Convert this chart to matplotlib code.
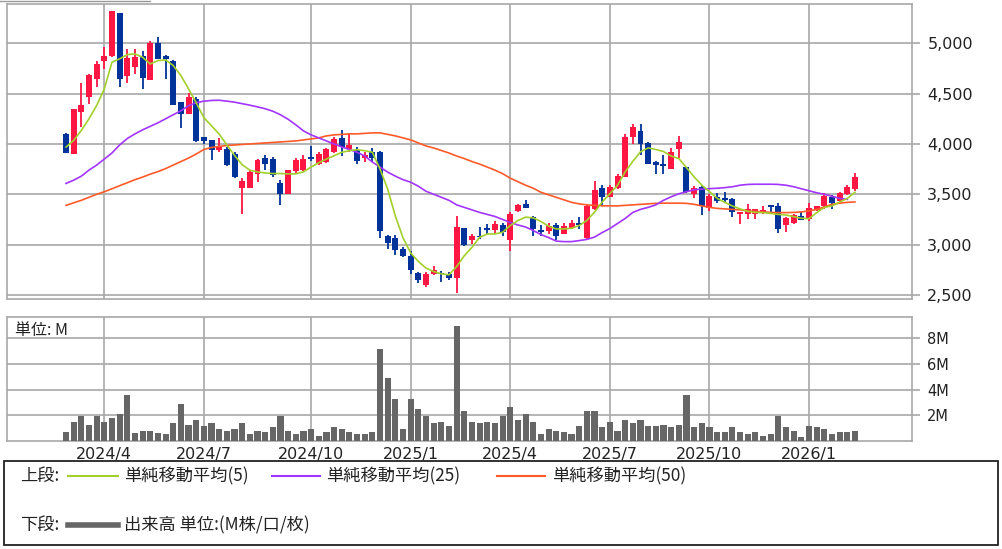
import matplotlib
matplotlib.use("Agg")
import matplotlib.pyplot as plt
from matplotlib.lines import Line2D
from matplotlib.patches import Rectangle
import numpy as np

W, H = 1003, 549

# weekly candles, first week = 2024-02-26
opens = [4101, 3903, 4316, 4465, 4646, 4822, 4871, 5300, 4679, 4762,
         4878, 4636, 5000, 4878, 4822, 4415, 4299, 4450, 4065, 4042,
         3935, 3951, 3902, 3559, 3565, 3706, 3863, 3846, 3614, 3500,
         3732, 3739, 3869, 3804, 3823, 3917, 4057, 3950, 3943, 3857,
         3917, 3917, 3083, 3067, 2957, 2890, 2723, 2600, 2710, 2723,
         2710, 2667, 3168, 3050, 3083, 3163, 3150, 3196, 3050, 3333,
         3406, 3273, 3150, 3133, 3196, 3106, 3163, 3216, 3063, 3349,
         3562, 3472, 3562, 3672, 4068, 4130, 4008, 3821, 3804, 3755,
         3951, 3771, 3500, 3572, 3363, 3474, 3460, 3457, 3308, 3301,
         3301, 3325, 3384, 3384, 3192, 3212, 3285, 3252, 3344, 3384,
         3477, 3434, 3500, 3556]
highs = [4110, 4350, 4607, 4690, 4822, 4967, 5317, 5300, 4944, 4944,
         4927, 5026, 5060, 4880, 4830, 4415, 4504, 4465, 4070, 4042,
         4056, 3967, 3918, 3657, 3738, 3853, 3892, 3869, 3640, 3745,
         3860, 3892, 3977, 3920, 3960, 4067, 4140, 4110, 3967, 3917,
         3957, 3933, 3100, 3100, 2973, 2933, 2733, 2733, 2783, 2743,
         2733, 3283, 3170, 3106, 3173, 3206, 3230, 3216, 3323, 3406,
         3439, 3289, 3196, 3216, 3216, 3216, 3240, 3273, 3390, 3629,
         3589, 3596, 3705, 4095, 4200, 4200, 4018, 3830, 3886, 3957,
         4082, 3771, 3585, 3585, 3500, 3517, 3526, 3467, 3318, 3400,
         3358, 3384, 3384, 3417, 3278, 3301, 3325, 3417, 3384, 3517,
         3490, 3523, 3589, 3708]
lows = [3913, 3897, 4167, 4398, 4564, 4746, 4860, 4564, 4607, 4696,
        4547, 4636, 4845, 4646, 4382, 4161, 4299, 4021, 4000, 3837,
        3918, 3778, 3657, 3304, 3560, 3624, 3739, 3673, 3395, 3500,
        3715, 3730, 3827, 3790, 3810, 3910, 3877, 3917, 3800, 3823,
        3823, 3067, 2957, 2900, 2877, 2710, 2623, 2583, 2700, 2633,
        2650, 2523, 2985, 3007, 3057, 3106, 3106, 3090, 2933, 3323,
        3363, 3083, 3090, 3106, 3050, 3106, 3156, 3156, 3060, 3340,
        3383, 3472, 3556, 3672, 4003, 3895, 3797, 3700, 3706, 3755,
        3859, 3510, 3467, 3297, 3330, 3417, 3424, 3278, 3202, 3258,
        3258, 3301, 3318, 3113, 3126, 3202, 3245, 3235, 3334, 3351,
        3351, 3400, 3490, 3533]
closes = [3913, 4346, 4389, 4686, 4795, 4871, 5317, 4646, 4851, 4861,
          4656, 5000, 4845, 4845, 4382, 4299, 4465, 4030, 4033, 3935,
          3967, 3794, 3673, 3631, 3722, 3837, 3804, 3696, 3500, 3739,
          3837, 3853, 3853, 3902, 3945, 4050, 3967, 3990, 3833, 3890,
          3857, 3133, 3017, 2950, 2883, 2750, 2650, 2710, 2750, 2710,
          2667, 3177, 3000, 3083, 3073, 3150, 3206, 3123, 3306, 3389,
          3363, 3156, 3123, 3190, 3083, 3190, 3216, 3196, 3383, 3539,
          3472, 3572, 3682, 4068, 4167, 3998, 3805, 3791, 3781, 3925,
          4016, 3526, 3559, 3379, 3487, 3434, 3447, 3325, 3318, 3358,
          3351, 3344, 3378, 3152, 3268, 3291, 3245, 3368, 3384, 3483,
          3417, 3517, 3576, 3675]
volume_m = [0.68, 1.5, 1.95, 1.25, 1.95, 1.5, 1.77, 2.1, 3.58, 0.65,
            0.8, 0.8, 0.65, 0.55, 1.38, 2.86, 1.25, 1.64, 1.17, 1.38,
            0.9, 0.8, 0.9, 1.38, 0.55, 0.8, 0.68, 1.06, 1.97, 0.8,
            0.55, 0.8, 0.9, 0.42, 0.68, 1.06, 0.94, 0.68, 0.55, 0.55,
            0.68, 7.14, 4.94, 3.25, 0.94, 3.25, 2.5, 1.97, 1.43, 1.5,
            1.17, 8.96, 2.36, 1.5, 1.43, 1.5, 1.43, 1.95, 2.62, 1.64,
            2.1, 1.5, 0.55, 0.94, 0.8, 0.68, 0.55, 1.17, 2.36, 2.36,
            1.06, 1.5, 0.8, 1.64, 1.43, 1.64, 1.17, 1.17, 1.25, 1.06,
            1.25, 3.58, 1.06, 1.38, 1.06, 0.68, 0.68, 1.06, 0.68, 0.55,
            0.68, 0.42, 0.55, 1.95, 1.06, 0.8, 0.34, 1.17, 1.06, 0.94,
            0.55, 0.68, 0.68, 0.8]
ma5 = [3969, 4035, 4134, 4250, 4382, 4547, 4812, 4845, 4888, 4894,
       4861, 4795, 4828, 4835, 4779, 4679, 4547, 4408, 4261, 4180,
       4098, 3990, 3886, 3794, 3739, 3722, 3712, 3706, 3706, 3703,
       3703, 3722, 3771, 3814, 3850, 3883, 3917, 3933, 3943, 3933,
       3917, 3750, 3550, 3283, 3067, 2917, 2833, 2767, 2733, 2710,
       2700, 2783, 2890, 2973, 3073, 3106, 3106, 3123, 3190, 3240,
       3273, 3266, 3230, 3183, 3156, 3156, 3163, 3190, 3240, 3323,
       3423, 3506, 3589, 3722, 3828, 3922, 3961, 3945, 3925, 3880,
       3855, 3765, 3673, 3591, 3526, 3460, 3420, 3384, 3355, 3330,
       3320, 3318, 3310, 3300, 3294, 3278, 3262, 3258, 3318, 3370,
       3384, 3424, 3459, 3520]
ma25 = [3608, 3640, 3680, 3740, 3790, 3850, 3910, 3990, 4054, 4100,
        4140, 4175, 4210, 4250, 4290, 4330, 4380, 4410, 4425, 4432,
        4434, 4425, 4415, 4400, 4385, 4368, 4350, 4325, 4290, 4245,
        4190, 4130, 4090, 4060, 4030, 4000, 3970, 3945, 3917, 3880,
        3820, 3770, 3720, 3680, 3645, 3620, 3580, 3530, 3500, 3470,
        3440, 3395, 3370, 3345, 3320, 3300, 3280, 3250, 3220, 3195,
        3175, 3140, 3100, 3070, 3035, 3030, 3030, 3040, 3052, 3075,
        3120, 3160, 3210, 3260, 3320, 3350, 3370, 3395, 3440, 3475,
        3505, 3525, 3545, 3552, 3556, 3560, 3566, 3575, 3590, 3598,
        3600, 3600, 3600, 3598, 3590, 3575, 3555, 3535, 3515, 3500,
        3480, 3460, 3450]
ma50 = [3390, 3415, 3440, 3470, 3500, 3525, 3555, 3585, 3615, 3645,
        3671, 3700, 3725, 3755, 3790, 3825, 3860, 3900, 3945, 3965,
        3975, 3985, 3990, 3995, 4000, 4005, 4010, 4015, 4020, 4025,
        4030, 4040, 4050, 4060, 4080, 4090, 4095, 4100, 4100, 4105,
        4110, 4110, 4095, 4080, 4060, 4040, 4010, 3980, 3960, 3935,
        3910, 3880, 3855, 3825, 3800, 3770, 3740, 3705, 3660, 3625,
        3590, 3560, 3520, 3495, 3470, 3445, 3420, 3405, 3395, 3390,
        3385, 3385, 3385, 3390, 3395, 3400, 3405, 3410, 3412, 3412,
        3412, 3410, 3400, 3385, 3370, 3360, 3355, 3350, 3345, 3335,
        3330, 3325, 3320, 3318, 3318, 3320, 3325, 3335, 3350, 3375,
        3400, 3412, 3420, 3424]

month_idx = [5, 18, 32, 45, 58, 71, 84, 97]
month_labels = ["2024/4", "2024/7", "2024/10", "2025/1", "2025/4", "2025/7", "2025/10", "2026/1"]
price_ticks = [2500, 3000, 3500, 4000, 4500, 5000]
vol_ticks = [2, 4, 6, 8]

UP, DOWN = "#ff1744", "#003399"
C5, C25, C50 = "#a2d02a", "#a235ff", "#ff5a28"
GRID = "#a8a8a8"
JP = ["Noto Sans CJK JP", "DejaVu Sans"]


def px_rect(l, t, r, b):
    return [l / W, 1 - b / H, (r - l) / W, (b - t) / H]


def px_x(i):
    # index position from pixel column
    return (i - 66) / 7.66


def style_axes(ax):
    for s in ax.spines.values():
        s.set_color(GRID); s.set_linewidth(1.2)
    ax.set_xticks(month_idx)
    ax.grid(True, color=GRID, linewidth=1.2)
    ax.set_axisbelow(True)
    ax.set_xlim(px_x(7), px_x(912))


fig = plt.figure(figsize=(W / 100, H / 100), dpi=100)
fig.patch.set_facecolor("white")

# price panel
ax = fig.add_axes(px_rect(7, 4, 912, 299))
style_axes(ax)
ax.set_ylim(2460, 5390)
x = np.arange(len(opens))
o, h, l, c = map(np.array, (opens, highs, lows, closes))
colors = np.where(c >= o, UP, DOWN)
ax.vlines(x, l, h, colors=colors, linewidth=1.3, zorder=3)
body = np.maximum(np.abs(c - o), 12)
ax.bar(x, body, bottom=np.minimum(o, c), width=0.78, color=colors, linewidth=0, zorder=3)
ax.plot(np.arange(len(ma50)), ma50, color=C50, linewidth=1.2, zorder=4)
ax.plot(np.arange(len(ma25)), ma25, color=C25, linewidth=1.2, zorder=4)
ax.plot(np.arange(len(ma5)), ma5, color=C5, linewidth=1.2, zorder=5)
ax.set_yticks(price_ticks)
ax.set_yticklabels([f"{v:,}" for v in price_ticks])
ax.yaxis.tick_right()
ax.tick_params(axis="y", length=6, width=1.2, color=GRID, pad=5, labelsize=11.5, labelcolor="#222222")
ax.tick_params(axis="x", length=0, labelbottom=False)

# volume panel
av = fig.add_axes(px_rect(7, 317, 912, 441))
style_axes(av)
av.set_ylim(0, 9.66)
av.bar(x, volume_m, width=0.8, color="#666666", linewidth=0, zorder=3)
av.set_yticks(vol_ticks)
av.set_yticklabels([f"{v}M" for v in vol_ticks])
av.yaxis.tick_right()
av.tick_params(axis="y", length=6, width=1.2, color=GRID, pad=5, labelsize=10.5, labelcolor="#222222")
av.set_xticklabels(month_labels)
av.tick_params(axis="x", length=0, pad=4, labelsize=11.5, labelcolor="#222222")
av.text(0.009, 0.89, "単位: M", transform=av.transAxes, family=JP, fontsize=11.5,
        va="center", ha="left", color="#222222")

# legend box
fig.patches.append(Rectangle((4 / W, 1 - 545 / H), 994 / W, 84 / H, transform=fig.transFigure,
                             fill=False, edgecolor="#222222", linewidth=1.3))
fig.add_artist(Line2D([0, 150 / W], [1 - 1 / H, 1 - 1 / H], color="#999999", linewidth=1))


def fy(y):
    return 1 - y / H


def legend_line(x0, x1, y, color, lw):
    fig.add_artist(Line2D([x0 / W, x1 / W], [fy(y), fy(y)], color=color, linewidth=lw))


for txt, xx, yy in [("上段:", 20, 476), ("単純移動平均(5)", 124, 476), ("単純移動平均(25)", 326, 476),
                    ("単純移動平均(50)", 552, 476), ("下段:", 20, 525), ("出来高 単位:(M株/口/枚)", 124, 525)]:
    fig.text(xx / W, fy(yy), txt, family=JP, fontsize=12.4, va="center", ha="left", color="#222222")
legend_line(68, 118, 476, C5, 1.5)
legend_line(272, 320, 476, C25, 1.5)
legend_line(497, 545, 476, C50, 1.5)
legend_line(68, 118, 525, "#666666", 4)

fig.savefig("out.png", dpi=100)
